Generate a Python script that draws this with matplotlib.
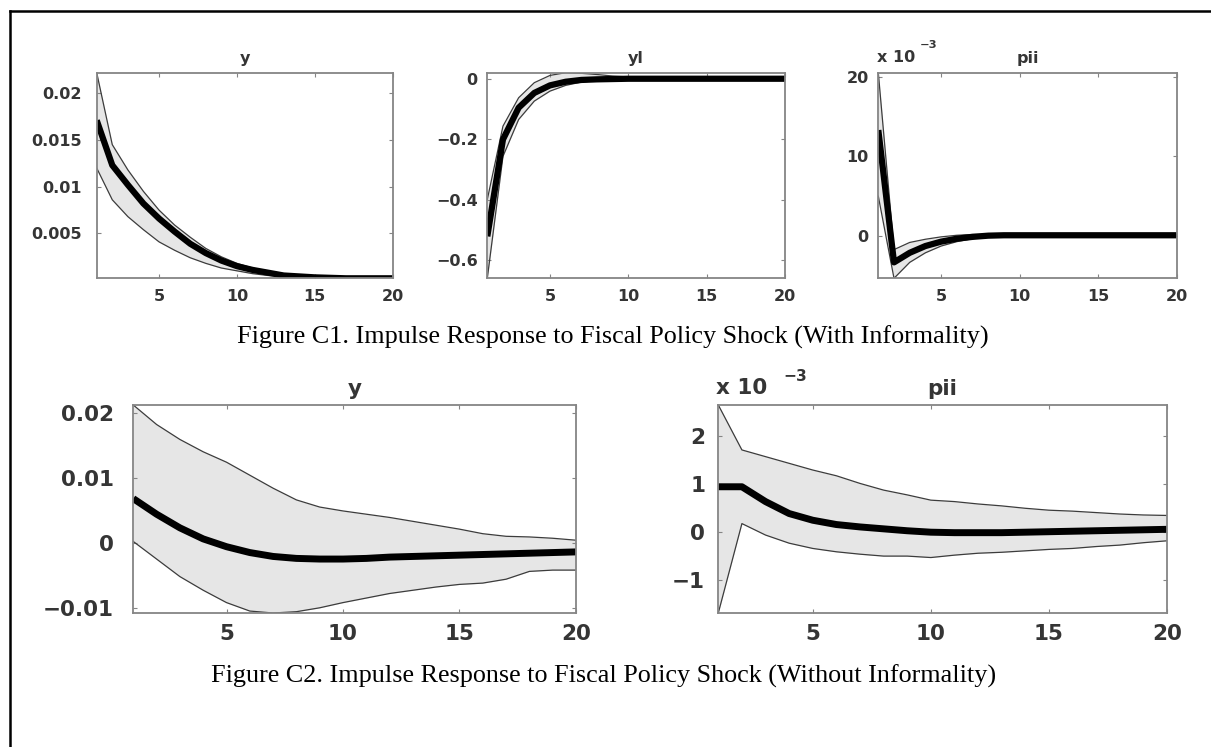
import numpy as np
import matplotlib
matplotlib.use("Agg")
import matplotlib.pyplot as plt
from matplotlib.lines import Line2D

# ---------------- data ----------------
periods = list(range(1, 21))

# Figure C1 (with informality)
c1_y_med = [0.0171, 0.0123, 0.0102, 0.0082, 0.0066, 0.0052, 0.0039, 0.0029, 0.0021, 0.0015,
            0.0011, 0.0008, 0.0005, 0.0004, 0.0003, 0.00025, 0.0002, 0.0002, 0.0002, 0.0002]
c1_y_up = [0.0222, 0.0145, 0.0118, 0.0095, 0.0075, 0.0059, 0.0046, 0.0034, 0.0025, 0.0018,
           0.0013, 0.0009, 0.0007, 0.0005, 0.0004, 0.0003, 0.0003, 0.0002, 0.0002, 0.0002]
c1_y_lo = [0.0120, 0.0086, 0.0068, 0.0054, 0.0041, 0.0032, 0.0024, 0.0018, 0.0013, 0.0010,
           0.0007, 0.0005, 0.0004, 0.0003, 0.0002, 0.0002, 0.0002, 0.0002, 0.0002, 0.0002]

c1_yl_med = [-0.522, -0.201, -0.096, -0.047, -0.022, -0.010, -0.004, -0.002, -0.001, 0.0,
             0.0, 0.0, 0.0, 0.0, 0.0, 0.0, 0.0, 0.0, 0.0, 0.0]
c1_yl_up = [-0.400, -0.157, -0.063, -0.013, 0.011, 0.020, 0.018, 0.014, 0.009, 0.006,
            0.003, 0.002, 0.001, 0.0, 0.0, 0.0, 0.0, 0.0, 0.0, 0.0]
c1_yl_lo = [-0.661, -0.257, -0.135, -0.074, -0.041, -0.022, -0.011, -0.006, -0.002, 0.0,
            0.0, 0.0, 0.0, 0.0, 0.0, 0.0, 0.0, 0.0, 0.0, 0.0]

c1_pii_med = [13.3, -3.3, -2.1, -1.25, -0.7, -0.33, -0.1, 0.05, 0.1, 0.1,
              0.1, 0.1, 0.1, 0.1, 0.1, 0.1, 0.1, 0.1, 0.1, 0.1]
c1_pii_up = [20.5, -1.7, -0.8, -0.4, -0.1, 0.1, 0.2, 0.2, 0.2, 0.2,
             0.2, 0.2, 0.2, 0.2, 0.2, 0.2, 0.2, 0.2, 0.2, 0.2]
c1_pii_lo = [5.0, -5.3, -3.3, -2.1, -1.25, -0.7, -0.33, -0.08, 0.0, 0.0,
             0.0, 0.0, 0.0, 0.0, 0.0, 0.0, 0.0, 0.0, 0.0, 0.0]

# Figure C2 (without informality)
c2_y_med = [0.0069, 0.0045, 0.0024, 0.0007, -0.0005, -0.0014, -0.0020, -0.0023, -0.0024, -0.0024,
            -0.0023, -0.0021, -0.0020, -0.0019, -0.0018, -0.0017, -0.0016, -0.0015, -0.0014, -0.0013]
c2_y_up = [0.0213, 0.0183, 0.0160, 0.0141, 0.0125, 0.0105, 0.0085, 0.0067, 0.0056, 0.0050,
           0.0045, 0.0040, 0.0034, 0.0028, 0.0022, 0.0015, 0.0011, 0.0010, 0.0008, 0.0005]
c2_y_lo = [0.0003, -0.0024, -0.0051, -0.0072, -0.0091, -0.0104, -0.0107, -0.0105, -0.0099, -0.0091,
           -0.0084, -0.0077, -0.0072, -0.0067, -0.0063, -0.0061, -0.0055, -0.0043, -0.0041, -0.0041]

c2_pii_med = [0.94, 0.94, 0.63, 0.38, 0.24, 0.15, 0.10, 0.06, 0.02, -0.01,
              -0.02, -0.02, -0.02, -0.01, 0.0, 0.01, 0.02, 0.03, 0.04, 0.05]
c2_pii_up = [2.65, 1.71, 1.57, 1.43, 1.29, 1.17, 1.01, 0.87, 0.77, 0.66,
             0.63, 0.58, 0.54, 0.49, 0.45, 0.43, 0.40, 0.37, 0.35, 0.34]
c2_pii_lo = [-1.70, 0.17, -0.07, -0.24, -0.35, -0.42, -0.47, -0.51, -0.51, -0.54,
             -0.49, -0.45, -0.43, -0.40, -0.37, -0.35, -0.31, -0.28, -0.23, -0.19]

titles_top = ["y", "yl", "pii"]
titles_bot = ["y", "pii"]
xticks = [5, 10, 15, 20]
yt_c1_y = [0.005, 0.01, 0.015, 0.02]
yt_c1_yl = [-0.6, -0.4, -0.2, 0]
yt_c1_pii = [0, 10, 20]
yt_c2_y = [-0.01, 0, 0.01, 0.02]
yt_c2_pii = [-1, 0, 1, 2]
caption1 = "Figure C1. Impulse Response to Fiscal Policy Shock (With Informality)"
caption2 = "Figure C2. Impulse Response to Fiscal Policy Shock (Without Informality)"

# ---------------- layout ----------------
W, H = 1211, 747
fig = plt.figure(figsize=(W / 100, H / 100), dpi=100)
fig.patch.set_facecolor("white")

def box(l, t, r, b):
    return [l / W, 1 - b / H, (r - l) / W, (b - t) / H]

SANS = "DejaVu Sans"
TXT = "#353535"
SPINE = "#858585"
WEIGHT = "bold"

def fmt(v):
    s = ("%g" % v)
    return s.replace("-", "\u2212")

def panel(rect, med, up, lo, yticks, title, fs, pad_x, pad_y, title_pad, lw_med):
    ax = fig.add_axes(rect)
    x = np.array(periods)
    ax.fill_between(x, lo, up, color="#e6e6e6", lw=0)
    ax.plot(x, up, color="#3c3c3c", lw=0.9)
    ax.plot(x, lo, color="#3c3c3c", lw=0.9)
    ax.plot(x, med, color="black", lw=lw_med, solid_capstyle="butt")
    ax.set_xlim(1, 20)
    ax.set_ylim(min(lo), max(up))
    ax.set_xticks(xticks)
    ax.set_xticklabels([str(t) for t in xticks])
    ax.set_yticks(yticks)
    ax.set_yticklabels([fmt(t) for t in yticks])
    for s in ax.spines.values():
        s.set_color(SPINE)
        s.set_linewidth(1.3)
    ax.tick_params(direction="in", length=3, width=0.8, color=SPINE,
                   top=True, right=True, labelsize=fs, labelcolor=TXT)
    ax.tick_params(axis="x", pad=pad_x)
    ax.tick_params(axis="y", pad=pad_y)
    for lab in ax.get_xticklabels() + ax.get_yticklabels():
        lab.set_family(SANS)
        lab.set_weight(WEIGHT)
    ax.set_title(title, fontsize=fs, color=TXT, family=SANS, weight=WEIGHT, pad=title_pad)
    return ax

# top row
panel(box(96.7, 72.7, 392.7, 278.3), c1_y_med, c1_y_up, c1_y_lo, yt_c1_y, titles_top[0],
      11.5, 7.5, 10.5, 7, 4.5)
panel(box(487.3, 72.7, 785, 278.3), c1_yl_med, c1_yl_up, c1_yl_lo, yt_c1_yl, titles_top[1],
      11.5, 7.5, 7, 7, 4.5)
panel(box(878.3, 72.7, 1176.7, 278.3), c1_pii_med, c1_pii_up, c1_pii_lo, yt_c1_pii,
      titles_top[2], 11.5, 7.5, 7, 7, 4.5)

# bottom row
panel(box(133.3, 405, 576, 613), c2_y_med, c2_y_up, c2_y_lo, yt_c2_y, titles_bot[0],
      15.5, 8, 14, 7.5, 5)
panel(box(718.3, 405, 1167, 613), c2_pii_med, c2_pii_up, c2_pii_lo, yt_c2_pii,
      titles_bot[1], 15.5, 8, 9.5, 7.5, 5)

# exponent labels ("x 10^-3" as MATLAB draws it)
def exp_label(x0, y0, x1, y1, fs):
    fig.text(x0 / W, 1 - y0 / H, "x 10", fontsize=fs, color=TXT, family=SANS,
             weight=WEIGHT, ha="left", va="center")
    fig.text(x1 / W, 1 - y1 / H, "\u22123", fontsize=fs * 0.72, color=TXT, family=SANS,
             weight=WEIGHT, ha="left", va="center")

exp_label(877, 58, 920, 45, 11.5)
exp_label(716, 388, 783, 377, 15.5)

# captions
fig.text(613 / W, 1 - 337 / H, caption1, fontsize=18.8, family="Liberation Serif",
         color="black", ha="center", va="center")
fig.text(604 / W, 1 - 676 / H, caption2, fontsize=18.8, family="Liberation Serif",
         color="black", ha="center", va="center")

# outer frame (left and top only)
fig.add_artist(Line2D([9.5 / W, 9.5 / W], [0, 1 - 10.5 / H], transform=fig.transFigure,
                      color="black", lw=1.8))
fig.add_artist(Line2D([9.5 / W, 1], [1 - 10.5 / H, 1 - 10.5 / H], transform=fig.transFigure,
                      color="black", lw=1.8))

fig.savefig("out.png", dpi=100)
